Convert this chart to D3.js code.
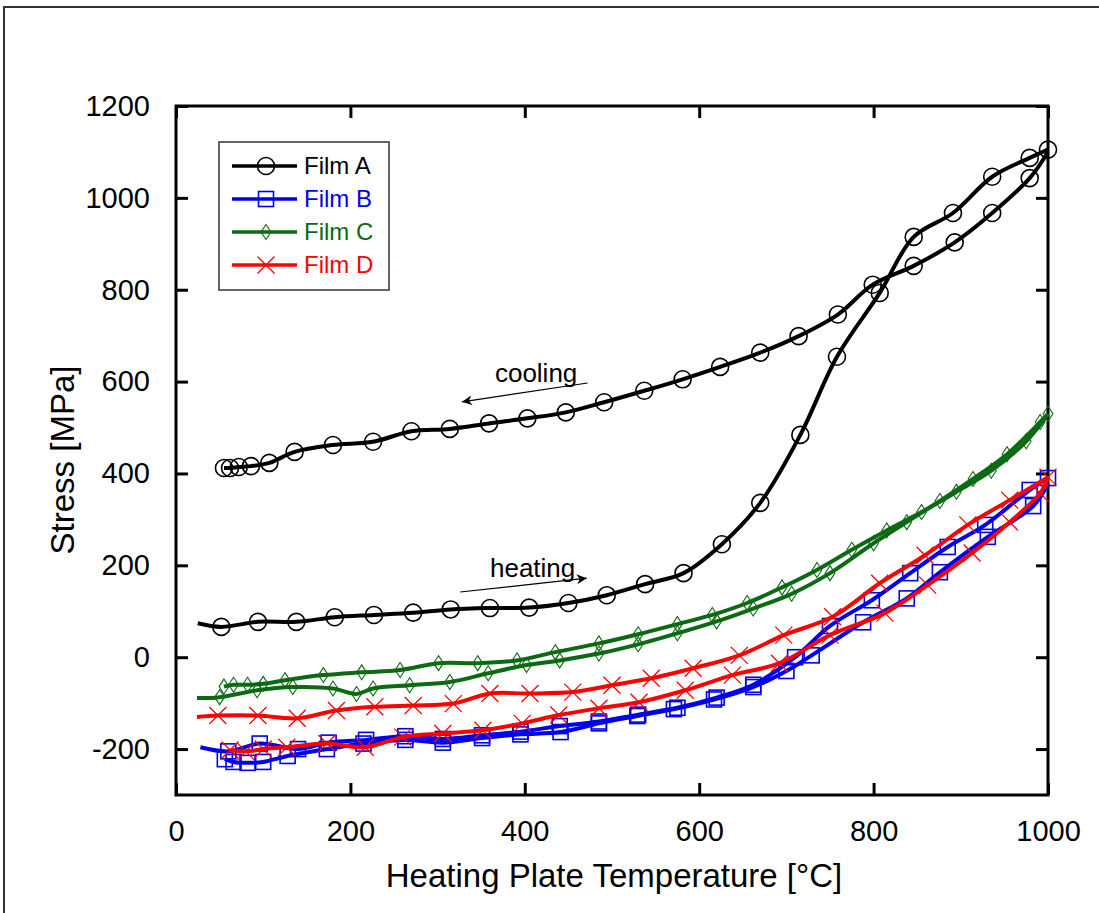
<!DOCTYPE html>
<html>
<head>
<meta charset="utf-8">
<script src="https://cdn.jsdelivr.net/npm/d3@7"></script>
<style>
  body { margin: 0; background: #fff; }
  svg { font-family: "Liberation Sans", Arial, sans-serif; }
</style>
</head>
<body>
<div id="chart"></div>
<script>
// Film A (black, circles)
const filmAHeat = [[25,74],[52,66],[94,77],[138,77],[182,87],[227,92],[272,97],[315,104],[360,107],[405,108],[450,118],[494,135],[538,159],[582,183],[626,246],[670,336],[716,484],[758,654],[807,793],[846,915],[891,967],[936,1046],[979,1087],[1000,1105]];
const filmACool = [[1000,1100],[979,1043],[936,967],[893,903],[846,852],[799,811],[759,746],[714,699],[670,663],[624,632],[581,605],[537,580],[491,555],[447,533],[403,520],[359,509],[314,497],[270,492],[226,469],[180,462],[136,447],[107,423],[86,416],[72,414],[62,412],[55,412]];
// Film B (blue, squares)
const filmBHeat = [[28,-196],[60,-205],[96,-188],[140,-200],[175,-186],[218,-180],[263,-172],[306,-178],[351,-170],[395,-162],[440,-150],[485,-140],[530,-125],[575,-110],[620,-88],[662,-60],[710,0],[750,68],[798,124],[842,183],[885,240],[928,288],[979,364],[1000,390]];
const filmBCool = [[1000,378],[983,329],[931,262],[876,185],[838,128],[788,76],[729,4],[700,-30],[662,-65],[617,-92],[571,-113],[529,-128],[485,-144],[441,-163],[395,-168],[351,-176],[306,-186],[263,-180],[215,-188],[173,-200],[128,-215],[100,-228],[82,-230],[66,-228],[56,-222]];
// Film C (green, diamonds)
const filmCHeat = [[24,-89],[50,-87],[93,-72],[134,-65],[180,-68],[207,-80],[226,-68],[268,-61],[314,-54],[358,-35],[402,-17],[440,-7],[485,8],[530,28],[575,52],[620,78],[662,106],[706,138],[750,183],[800,248],[838,294],[876,340],[914,388],[953,442],[991,512],[1000,530]];
const filmCCool = [[1000,530],[975,470],[935,406],[895,360],[855,316],[815,276],[775,234],[735,190],[695,152],[655,118],[615,92],[575,72],[530,50],[485,30],[435,11],[391,-7],[346,-13],[301,-13],[257,-28],[213,-33],[169,-39],[125,-50],[100,-58],[82,-60],[66,-60],[55,-64]];
// Film D (red, crosses)
const filmDHeat = [[24,-130],[48,-127],[94,-127],[139,-133],[184,-116],[228,-108],[272,-105],[318,-101],[360,-79],[406,-79],[455,-76],[500,-61],[545,-46],[593,-24],[646,4],[697,48],[753,88],[807,161],[859,222],[908,288],[956,342],[1000,392]];
const filmDCool = [[1000,392],[991,357],[956,294],[913,227],[862,157],[813,96],[750,48],[692,-13],[638,-39],[584,-72],[531,-98],[485,-111],[439,-126],[397,-144],[352,-159],[306,-166],[260,-174],[217,-196],[173,-188],[127,-196],[100,-200],[80,-205],[62,-202]];

const seriesNames = ["Film A", "Film B", "Film C", "Film D"];
const seriesColors = ["#000000", "#0000ee", "#0b6a12", "#ff0000"];
const seriesSymbols = ["circle", "square", "diamond", "cross"];
const seriesData = [[filmAHeat, filmACool], [filmBHeat, filmBCool], [filmCHeat, filmCCool], [filmDHeat, filmDCool]];

const xTicks = [0, 200, 400, 600, 800, 1000];
const yTicks = [-200, 0, 200, 400, 600, 800, 1000, 1200];

// annotation text + arrow (data coords)
const notes = [
  { text: "cooling", at: [413, 619], from: [472, 597], to: [328, 556] },
  { text: "heating", at: [409, 194], from: [326, 142], to: [471, 172] }
];

const W = 1099, H = 913;
const m = { left: 176, right: 1048, top: 106, bottom: 795 };

const svg = d3.select("#chart").append("svg")
  .attr("width", W).attr("height", H);

// outer frame
svg.append("rect")
  .attr("x", 4).attr("y", 7).attr("width", W + 20).attr("height", H + 20)
  .attr("fill", "none").attr("stroke", "#333").attr("stroke-width", 2);

const x = d3.scaleLinear().domain([0, 1000]).range([m.left, m.right]);
const y = d3.scaleLinear().domain([-300, 1200]).range([m.bottom, m.top]);

const tickLen = 12;
const fmt = d => String(d); // plain hyphen minus, no thousands comma

// axes with inward ticks
svg.append("g").attr("transform", `translate(0,${m.bottom})`)
  .call(d3.axisBottom(x).tickValues(xTicks).tickFormat(fmt).tickSizeInner(-tickLen).tickSizeOuter(0).tickPadding(25))
  .call(g => g.select(".domain").remove())
  .call(g => g.selectAll("line").attr("stroke-width", 3))
  .call(g => g.selectAll("text").attr("font-size", 29).attr("fill", "#000"));

svg.append("g").attr("transform", `translate(0,${m.top})`)
  .call(d3.axisTop(x).tickValues(xTicks).tickSizeInner(-tickLen).tickSizeOuter(0).tickFormat(""))
  .call(g => g.select(".domain").remove())
  .call(g => g.selectAll("line").attr("stroke-width", 3));

svg.append("g").attr("transform", `translate(${m.left},0)`)
  .call(d3.axisLeft(y).tickValues(yTicks).tickFormat(fmt).tickSizeInner(-tickLen).tickSizeOuter(0).tickPadding(26))
  .call(g => g.select(".domain").remove())
  .call(g => g.selectAll("line").attr("stroke-width", 3))
  .call(g => g.selectAll("text").attr("font-size", 29).attr("fill", "#000"));

svg.append("g").attr("transform", `translate(${m.right},0)`)
  .call(d3.axisRight(y).tickValues(yTicks).tickSizeInner(-tickLen).tickSizeOuter(0).tickFormat(""))
  .call(g => g.select(".domain").remove())
  .call(g => g.selectAll("line").attr("stroke-width", 3));

// plot frame
svg.append("rect")
  .attr("x", m.left).attr("y", m.top)
  .attr("width", m.right - m.left).attr("height", m.bottom - m.top)
  .attr("fill", "none").attr("stroke", "#000").attr("stroke-width", 3);

// axis titles
svg.append("text")
  .attr("x", 614).attr("y", 887)
  .attr("text-anchor", "middle").attr("font-size", 33)
  .text("Heating Plate Temperature [°C]");

svg.append("text")
  .attr("transform", `translate(74,460) rotate(-90)`)
  .attr("text-anchor", "middle").attr("font-size", 33)
  .text("Stress [MPa]");

// marker drawing
function drawMarker(g, sym, color, size) {
  const s = size / 2;
  if (sym === "circle") {
    g.append("circle").attr("r", s).attr("fill", "none").attr("stroke", color).attr("stroke-width", 1.6);
  } else if (sym === "square") {
    g.append("rect").attr("x", -s).attr("y", -s).attr("width", size).attr("height", size)
      .attr("fill", "none").attr("stroke", color).attr("stroke-width", 1.6);
  } else if (sym === "diamond") {
    g.append("path").attr("d", `M0,${-s}L${s * 0.65},0L0,${s}L${-s * 0.65},0Z`)
      .attr("fill", "none").attr("stroke", color).attr("stroke-width", 1.1);
  } else {
    g.append("path").attr("d", `M${-s},${-s}L${s},${s}M${-s},${s}L${s},${-s}`)
      .attr("fill", "none").attr("stroke", color).attr("stroke-width", 1.3);
  }
}

const line = d3.line().x(d => x(d[0])).y(d => y(d[1])).curve(d3.curveCatmullRom.alpha(0.5));
const markSize = [17, 15, 15, 17];

const plot = svg.append("g");
seriesData.forEach((branches, i) => {
  const g = plot.append("g");
  branches.forEach(b => {
    g.append("path").attr("d", line(b))
      .attr("fill", "none").attr("stroke", seriesColors[i])
      .attr("stroke-width", 4).attr("stroke-linejoin", "round");
  });
  branches.forEach(b => {
    // each branch starts with an unmarked point
    b.slice(1).forEach(p => {
      const mg = g.append("g").attr("transform", `translate(${x(p[0])},${y(p[1])})`);
      drawMarker(mg, seriesSymbols[i], seriesColors[i], markSize[i]);
    });
  });
});

// annotations
svg.append("defs").append("marker")
  .attr("id", "arr").attr("viewBox", "0 0 10 10").attr("refX", 10).attr("refY", 5)
  .attr("markerWidth", 14).attr("markerHeight", 10).attr("markerUnits", "userSpaceOnUse")
  .attr("orient", "auto")
  .append("path").attr("d", "M0,0L10,5L0,10L3,5Z").attr("fill", "#000");

notes.forEach(n => {
  svg.append("line")
    .attr("x1", x(n.from[0])).attr("y1", y(n.from[1]))
    .attr("x2", x(n.to[0])).attr("y2", y(n.to[1]))
    .attr("stroke", "#000").attr("stroke-width", 1.2)
    .attr("marker-end", "url(#arr)");
  svg.append("text")
    .attr("x", x(n.at[0])).attr("y", y(n.at[1]) + 9)
    .attr("text-anchor", "middle").attr("font-size", 26)
    .text(n.text);
});

// legend
const lg = svg.append("g").attr("transform", "translate(219,142)");
lg.append("rect").attr("width", 170).attr("height", 148)
  .attr("fill", "#fff").attr("stroke", "#333").attr("stroke-width", 1.5);
seriesNames.forEach((name, i) => {
  const yy = 24 + i * 33;
  lg.append("line").attr("x1", 13).attr("x2", 78).attr("y1", yy).attr("y2", yy)
    .attr("stroke", seriesColors[i]).attr("stroke-width", 3.5);
  const mg = lg.append("g").attr("transform", `translate(47,${yy})`);
  drawMarker(mg, seriesSymbols[i], seriesColors[i], markSize[i]);
  lg.append("text").attr("x", 85).attr("y", yy + 8)
    .attr("font-size", 24).attr("fill", seriesColors[i])
    .text(name);
});
</script>
</body>
</html>
